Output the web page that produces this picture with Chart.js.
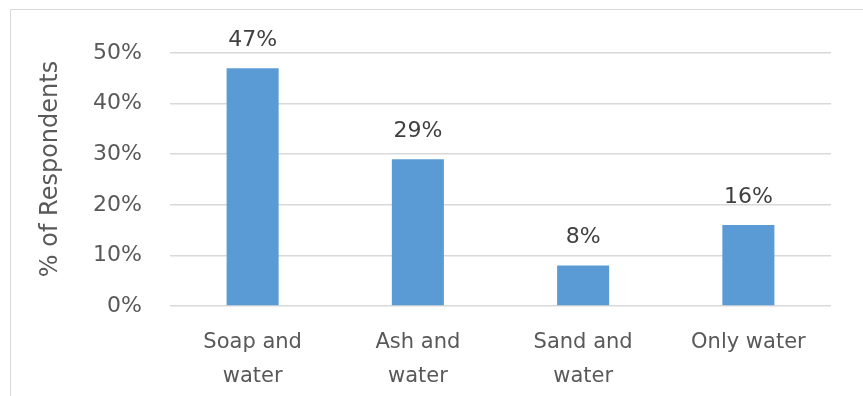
<!DOCTYPE html>
<html>
<head>
<meta charset="utf-8">
<script src="https://cdn.jsdelivr.net/npm/chart.js@4.4.1/dist/chart.umd.min.js"></script>
<style>
  html, body { margin: 0; padding: 0; background: #ffffff; }
  #wrap { width: 863px; height: 396px; position: relative; }
</style>
</head>
<body>
<div id="wrap"><canvas id="chart" width="863" height="396"></canvas></div>
<script>
// Hand-washing method reported by respondents
const categories = [['Soap and', 'water'], ['Ash and', 'water'], ['Sand and', 'water'], 'Only water'];
const respondentShare = [47, 29, 8, 16];
const yTicks = [0, 10, 20, 30, 40, 50];
const yAxisTitle = '% of Respondents';

const FONT = '"DejaVu Sans", "Liberation Sans", sans-serif';
const TEXT = '#595959';

// Thin frame along the top and left of the chart
const framePlugin = {
  id: 'frame',
  beforeDraw(chart) {
    const ctx = chart.ctx;
    ctx.save();
    ctx.strokeStyle = '#d9d9d9';
    ctx.lineWidth = 1;
    ctx.beginPath();
    ctx.moveTo(10.5, chart.height + 1);
    ctx.lineTo(10.5, 9.5);
    ctx.lineTo(chart.width + 1, 9.5);
    ctx.stroke();
    ctx.restore();
  }
};

// Rotated axis title and value labels above each bar
const labelPlugin = {
  id: 'valueLabels',
  afterDatasetsDraw(chart) {
    const ctx = chart.ctx;
    const y = chart.scales.y;
    const meta = chart.getDatasetMeta(0);
    ctx.save();
    ctx.fillStyle = '#404040';
    ctx.font = '22px ' + FONT;
    ctx.textAlign = 'center';
    ctx.textBaseline = 'middle';
    meta.data.forEach((bar, i) => {
      const v = respondentShare[i];
      ctx.fillText(v + '%', bar.x, y.getPixelForValue(v) - 28);
    });
    ctx.restore();

    ctx.save();
    ctx.fillStyle = TEXT;
    ctx.font = '24px ' + FONT;
    ctx.textAlign = 'center';
    ctx.textBaseline = 'middle';
    ctx.translate(51, 169);
    ctx.rotate(-Math.PI / 2);
    ctx.fillText(yAxisTitle, 0, 0);
    ctx.restore();
  }
};

new Chart(document.getElementById('chart'), {
  type: 'bar',
  data: {
    labels: categories,
    datasets: [{
      data: respondentShare,
      backgroundColor: '#5b9bd5',
      borderWidth: 0,
      barPercentage: 0.315,
      categoryPercentage: 1.0
    }]
  },
  options: {
    responsive: false,
    animation: false,
    events: [],
    layout: { padding: { left: 24, right: 32, top: 53, bottom: 0 } },
    plugins: { legend: { display: false }, tooltip: { enabled: false } },
    scales: {
      x: {
        grid: { display: false, drawTicks: false },
        border: { display: false },
        ticks: {
          color: TEXT,
          font: { family: FONT, size: 21, lineHeight: 1.65 },
          padding: 19,
          maxRotation: 0,
          autoSkip: false
        },
        afterFit(scale) { scale.height = 90; }
      },
      y: {
        min: 0,
        max: 50,
        afterBuildTicks(scale) { scale.ticks = yTicks.map(v => ({ value: v })); },
        grid: { color: '#d9d9d9', lineWidth: 1.5, drawTicks: false },
        border: { display: false },
        ticks: {
          color: TEXT,
          font: { family: FONT, size: 22 },
          padding: 28,
          callback: v => v + '%'
        },
        afterFit(scale) { scale.width = 146; }
      }
    }
  },
  plugins: [framePlugin, labelPlugin]
});
</script>
</body>
</html>
